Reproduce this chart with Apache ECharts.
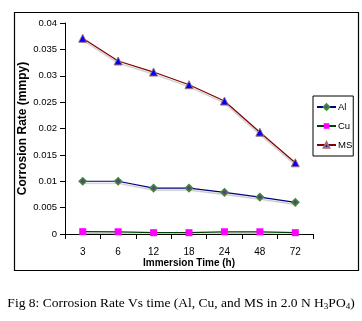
<!DOCTYPE html>
<html><head><meta charset="utf-8">
<script src="https://cdn.jsdelivr.net/npm/echarts@6/dist/echarts.min.js"></script>
<style>html,body{margin:0;padding:0;background:#fff}#c{width:362px;height:321px}</style>
</head><body><div id="c"></div>
<script>
const categories = ['3','6','12','18','24','48','72'];
const alValues = [0.0100, 0.0100, 0.0087, 0.0087, 0.0079, 0.0070, 0.0060];
const cuValues = [0.00044, 0.00042, 0.00025, 0.00025, 0.00042, 0.00042, 0.00025];
const msValues = [0.0371, 0.0328, 0.0307, 0.0283, 0.0252, 0.0193, 0.0135];
const yTicks = [0, 0.005, 0.01, 0.015, 0.02, 0.025, 0.03, 0.035, 0.04];

const chart = echarts.init(document.getElementById('c'), null, {renderer:'canvas'});
const sans = 'Liberation Sans';
chart.setOption({
  animation:false,
  backgroundColor:'#fff',
  textStyle:{fontFamily:sans},
  grid:{left:65, top:23, right:49, bottom:87, containLabel:false},
  title:{
    text:'{a|Fig 8: Corrosion Rate Vs time (Al, Cu, and MS in 2.0 N H}{s|3}{a|PO}{s|4}{a|)}',
    left:'center', top:290,
    textStyle:{rich:{
      a:{fontFamily:'Liberation Serif', fontSize:13.5, fontWeight:'normal', color:'#000', lineHeight:16},
      s:{fontFamily:'Liberation Serif', fontSize:9, fontWeight:'normal', color:'#000', verticalAlign:'bottom', lineHeight:16, padding:[6,0,0,0]}
    }}
  },
  legend:{
    orient:'vertical', left:313, top:96,
    padding:[5,1,5,3], itemGap:7, itemWidth:19, itemHeight:7,
    borderColor:'#000', borderWidth:1,
    textStyle:{fontFamily:sans, fontSize:9.5, color:'#000', padding:[0,0,0,-3], lineHeight:12},
    data:['Al','Cu','MS']
  },
  xAxis:{
    type:'category', data:categories, boundaryGap:true,
    name:'Immersion Time (h)', nameLocation:'middle', nameGap:24, nameMoveOverlap:false,
    nameTextStyle:{fontFamily:sans, fontSize:10, fontWeight:'bold', color:'#000'},
    axisLine:{lineStyle:{color:'#000', width:1}},
    axisTick:{show:true, length:5, lineStyle:{color:'#000'}},
    axisLabel:{fontFamily:sans, fontSize:10, color:'#000', margin:13}
  },
  yAxis:{
    type:'value', min:0, max:0.04, interval:0.005,
    name:'Corrosion Rate (mmpy)', nameLocation:'middle', nameGap:36, nameMoveOverlap:false,
    nameTextStyle:{fontFamily:sans, fontSize:12, fontWeight:'bold', color:'#000'},
    axisLine:{show:true, lineStyle:{color:'#000', width:1}},
    axisTick:{show:true, length:5, lineStyle:{color:'#000'}},
    splitLine:{show:false},
    axisLabel:{fontFamily:sans, fontSize:9.5, color:'#000', margin:8,
      formatter:function(v){ const i = yTicks.findIndex(t=>Math.abs(t-v)<1e-9); return i>=0 ? String(yTicks[i]) : ''; }}
  },
  series:[
    {name:'Al', type:'line', data:alValues, symbol:'diamond', symbolSize:7,
      lineStyle:{color:'#000080', width:1.2, shadowColor:'rgba(0,0,0,0.25)', shadowOffsetY:2, shadowBlur:1},
      itemStyle:{color:'#6a3a7a', borderColor:'#3c8c3c', borderWidth:1.5}},
    {name:'Cu', type:'line', data:cuValues, symbol:'rect', symbolSize:7,
      lineStyle:{color:'#004000', width:1.2, shadowColor:'rgba(0,0,0,0.3)', shadowOffsetY:2, shadowBlur:1},
      itemStyle:{color:'#ff00ff', borderColor:'#ff00ff', borderWidth:0}},
    {name:'MS', type:'line', data:msValues, symbol:'triangle', symbolSize:8,
      lineStyle:{color:'#800000', width:1.2, shadowColor:'rgba(0,0,0,0.25)', shadowOffsetY:2, shadowBlur:1},
      itemStyle:{color:'#0000ff', borderColor:'#a07070', borderWidth:1}}
  ],
  graphic:[
    {type:'rect', shape:{x:14.5, y:12.5, width:344, height:258}, style:{fill:'none', stroke:'#000', lineWidth:1.2}, silent:true, z:-1}
  ]
});
</script></body></html>
